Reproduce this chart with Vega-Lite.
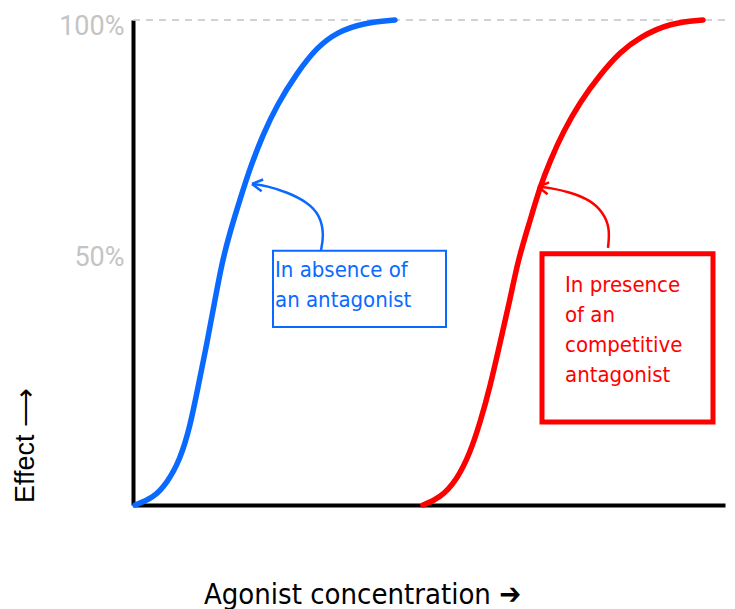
{
  "$schema": "https://vega.github.io/schema/vega-lite/v6.json",
  "width": 592,
  "height": 485,
  "autosize": {"type": "none"},
  "padding": {"left": 133, "top": 20, "right": 10, "bottom": 104},
  "background": "white",
  "config": {"view": {"stroke": null}},
  "datasets": {
    "curves": [
      {"series": "absent", "x": 2, "y": 0},
      {"series": "absent", "x": 20, "y": 1.4},
      {"series": "absent", "x": 34, "y": 4.5},
      {"series": "absent", "x": 47, "y": 9.3},
      {"series": "absent", "x": 57, "y": 16.1},
      {"series": "absent", "x": 65, "y": 24.3},
      {"series": "absent", "x": 74, "y": 33.4},
      {"series": "absent", "x": 82, "y": 42.3},
      {"series": "absent", "x": 89, "y": 50.0},
      {"series": "absent", "x": 97, "y": 56.3},
      {"series": "absent", "x": 107, "y": 63.0},
      {"series": "absent", "x": 117, "y": 69.5},
      {"series": "absent", "x": 130, "y": 76.4},
      {"series": "absent", "x": 144, "y": 82.5},
      {"series": "absent", "x": 164, "y": 89.1},
      {"series": "absent", "x": 184, "y": 94.4},
      {"series": "absent", "x": 204, "y": 97.5},
      {"series": "absent", "x": 230, "y": 99.4},
      {"series": "absent", "x": 262, "y": 100},
      {"series": "present", "x": 290, "y": 0},
      {"series": "present", "x": 307, "y": 1.4},
      {"series": "present", "x": 324, "y": 5.2},
      {"series": "present", "x": 337, "y": 10.7},
      {"series": "present", "x": 347, "y": 16.9},
      {"series": "present", "x": 357, "y": 24.3},
      {"series": "present", "x": 367, "y": 33.4},
      {"series": "present", "x": 377, "y": 42.3},
      {"series": "present", "x": 385, "y": 50.5},
      {"series": "present", "x": 397, "y": 58.6},
      {"series": "present", "x": 407, "y": 65.6},
      {"series": "present", "x": 417, "y": 70.9},
      {"series": "present", "x": 430, "y": 76.9},
      {"series": "present", "x": 447, "y": 83.1},
      {"series": "present", "x": 467, "y": 88.7},
      {"series": "present", "x": 487, "y": 93.4},
      {"series": "present", "x": 507, "y": 96.5},
      {"series": "present", "x": 537, "y": 99.4},
      {"series": "present", "x": 570, "y": 100}
    ],
    "arrows": [
      {"series": "absent", "i": 0, "x": 188, "y": 52.6},
      {"series": "absent", "i": 1, "x": 191, "y": 55.7},
      {"series": "absent", "i": 2, "x": 187, "y": 59.8},
      {"series": "absent", "i": 3, "x": 174, "y": 62.5},
      {"series": "absent", "i": 4, "x": 154, "y": 64.5},
      {"series": "absent", "i": 5, "x": 134, "y": 65.8},
      {"series": "absent", "i": 6, "x": 119, "y": 66.2},
      {"series": "present", "i": 0, "x": 475, "y": 53.0},
      {"series": "present", "i": 1, "x": 477, "y": 57.1},
      {"series": "present", "i": 2, "x": 470, "y": 60.4},
      {"series": "present", "i": 3, "x": 457, "y": 62.9},
      {"series": "present", "i": 4, "x": 437, "y": 64.5},
      {"series": "present", "i": 5, "x": 417, "y": 65.4},
      {"series": "present", "i": 6, "x": 405, "y": 65.6}
    ],
    "tips": [
      {"series": "absent", "x": 119, "y": 66.2},
      {"series": "present", "x": 405, "y": 65.6}
    ],
    "boxes": [
      {"series": "absent", "x": 140, "x2": 313, "y": 52.4, "y2": 36.7},
      {"series": "present", "x": 409, "x2": 580, "y": 51.8, "y2": 17.1}
    ],
    "labels": [
      {"series": "absent", "x": 142, "y": 47.0, "text": "In absence of"},
      {"series": "absent", "x": 142, "y": 40.8, "text": "an antagonist"},
      {"series": "present", "x": 432, "y": 43.9, "text": "In presence"},
      {"series": "present", "x": 432, "y": 37.7, "text": "of an"},
      {"series": "present", "x": 432, "y": 31.5, "text": "competitive"},
      {"series": "present", "x": 432, "y": 25.4, "text": "antagonist"}
    ],
    "top": [{"y": 100}]
  },
  "layer": [
    {
      "data": {"name": "top"},
      "mark": {"type": "rule", "color": "#c4c4c4", "strokeWidth": 1.5, "strokeDash": [7, 6]},
      "encoding": {
        "y": {
          "field": "y", "type": "quantitative",
          "scale": {"domain": [0, 100], "nice": false, "zero": true},
          "axis": {
            "values": [51.1, 98.6],
            "labelExpr": "datum.value > 75 ? '100%' : '50%'",
            "labelFont": "Roboto",
            "labelFontSize": 27,
            "labelColor": "#c4c4c4",
            "labelPadding": 9,
            "labelBaseline": "middle",
            "ticks": false,
            "grid": false,
            "domainColor": "black",
            "domainWidth": 4,
            "title": "Effect ⟶",
            "titleFont": "Liberation Sans",
            "titleFontWeight": "normal",
            "titleFontSize": 27,
            "titleColor": "black",
            "titleAngle": -90,
            "titleX": -100,
            "titleY": 425,
            "titleAlign": "center",
            "titleBaseline": "alphabetic"
          }
        }
      }
    },
    {
      "data": {"name": "curves"},
      "mark": {"type": "line", "strokeWidth": 5.5, "interpolate": "basis", "strokeCap": "round"},
      "encoding": {
        "x": {
          "field": "x", "type": "quantitative",
          "scale": {"domain": [0, 592], "nice": false},
          "axis": {
            "labels": false,
            "ticks": false,
            "grid": false,
            "domainColor": "black",
            "domainWidth": 4,
            "title": "Agonist concentration ➔",
            "titleFont": "Liberation Sans Narrow, DejaVu Sans Condensed, sans-serif",
            "titleFontWeight": "normal",
            "titleFontSize": 29,
            "titleColor": "black",
            "titleX": 229,
            "titleY": 98,
            "titleAlign": "center",
            "titleBaseline": "alphabetic"
          }
        },
        "y": {"field": "y", "type": "quantitative"},
        "color": {"field": "series", "type": "nominal", "scale": {"domain": ["absent", "present"], "range": ["#0a6aff", "#ff0000"]}, "legend": null}
      }
    },
    {
      "data": {"name": "arrows"},
      "mark": {"type": "line", "strokeWidth": 2.5, "interpolate": "basis"},
      "encoding": {
        "x": {"field": "x", "type": "quantitative"},
        "y": {"field": "y", "type": "quantitative"},
        "order": {"field": "i"},
        "color": {"field": "series", "type": "nominal", "legend": null}
      }
    },
    {
      "data": {"name": "tips"},
      "mark": {"type": "point", "shape": "M0,0L1.5,-0.6M0,0L1.3,1.0", "size": 220, "filled": false, "strokeWidth": 2.5, "opacity": 1},
      "encoding": {
        "x": {"field": "x", "type": "quantitative"},
        "y": {"field": "y", "type": "quantitative"},
        "color": {"field": "series", "type": "nominal", "legend": null}
      }
    },
    {
      "data": {"name": "boxes"},
      "transform": [{"filter": "datum.series == 'absent'"}],
      "mark": {"type": "rect", "fill": "white", "stroke": "#0a6aff", "strokeWidth": 2},
      "encoding": {
        "x": {"field": "x", "type": "quantitative"},
        "x2": {"field": "x2"},
        "y": {"field": "y", "type": "quantitative"},
        "y2": {"field": "y2"}
      }
    },
    {
      "data": {"name": "boxes"},
      "transform": [{"filter": "datum.series == 'present'"}],
      "mark": {"type": "rect", "fill": "white", "stroke": "#ff0000", "strokeWidth": 5},
      "encoding": {
        "x": {"field": "x", "type": "quantitative"},
        "x2": {"field": "x2"},
        "y": {"field": "y", "type": "quantitative"},
        "y2": {"field": "y2"}
      }
    },
    {
      "data": {"name": "labels"},
      "mark": {"type": "text", "align": "left", "baseline": "alphabetic", "font": "Liberation Sans Narrow, DejaVu Sans Condensed, sans-serif", "fontSize": 22},
      "encoding": {
        "x": {"field": "x", "type": "quantitative"},
        "y": {"field": "y", "type": "quantitative"},
        "text": {"field": "text"},
        "color": {"field": "series", "type": "nominal", "legend": null}
      }
    }
  ]
}
